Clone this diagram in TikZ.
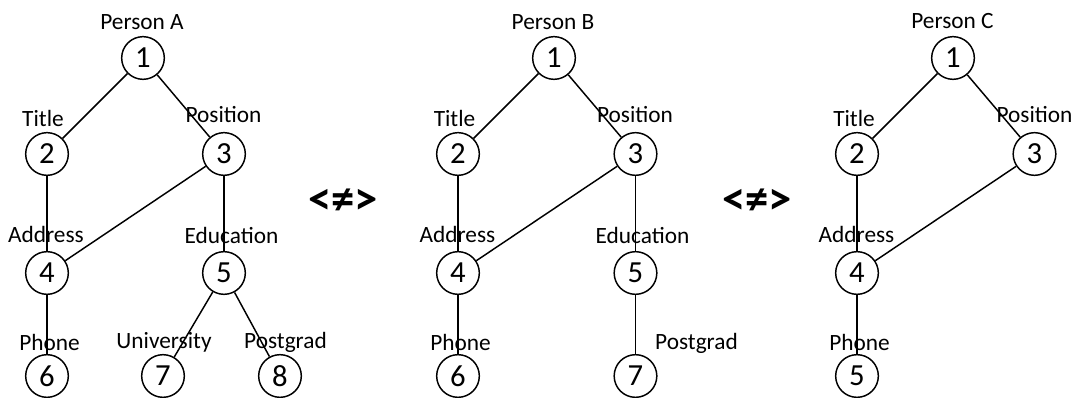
\documentclass[tikz,border=0pt]{standalone}
\usepackage{fontspec}
\setmainfont{Carlito}
\begin{document}
\begin{tikzpicture}[x=0.75pt,y=-0.75pt,
  nd/.style={circle,draw,line width=1.1pt,minimum size=32pt,inner sep=0pt,font=\fontsize{23}{26}\selectfont},
  lbl/.style={anchor=base,inner sep=0pt,font=\fontsize{17.5}{20}\selectfont},
  neq/.style={inner sep=0pt,font=\fontsize{35}{38}\selectfont\bfseries},
  edge/.style={line width=1.1pt}]
\useasboundingbox (0,0) rectangle (1079,398);

% ---------- Person A ----------
\node[nd] (a1) at (143,58) {1};
\node[nd] (a2) at (47,154) {2};
\node[nd] (a3) at (224,154) {3};
\node[nd] (a4) at (47,273) {4};
\node[nd] (a5) at (224,273) {5};
\node[nd] (a6) at (47,376) {6};
\node[nd] (a7) at (163,376) {7};
\node[nd] (a8) at (280,376) {8};
\draw[edge] (a1) -- (a2);
\draw[edge] (a1) -- (a3);
\draw[edge] (a2) -- (a4);
\draw[edge] (a3) -- (a4);
\draw[edge] (a3) -- (a5);
\draw[edge] (a4) -- (a6);
\draw[edge] (a5) -- (a7);
\draw[edge] (a5) -- (a8);
\node[lbl] (la1) at (142,30) {Person A};
\node[lbl] (la2) at (43,127) {Title};
\node[lbl] (la3) at (223.5,123) {Position};
\node[lbl] (la4) at (46,243) {Address};
\node[lbl] (la5) at (231.5,244) {Education};
\node[lbl] (la6) at (49.5,351) {Phone};
\node[lbl] (la7) at (164,349) {University};
\node[lbl] (la8) at (285.5,349) {Postgrad};

\node[neq] (ne1) at (343,202) {<≠>};

% ---------- Person B ----------
\node[nd] (b1) at (554,58) {1};
\node[nd] (b2) at (458,154) {2};
\node[nd] (b3) at (635.5,154) {3};
\node[nd] (b4) at (458,273) {4};
\node[nd] (b5) at (635.5,273) {5};
\node[nd] (b6) at (458,376) {6};
\node[nd] (b7) at (635.5,376) {7};
\draw[edge] (b1) -- (b2);
\draw[edge] (b1) -- (b3);
\draw[edge] (b2) -- (b4);
\draw[edge] (b3) -- (b4);
\draw[edge] (b3) -- (b5);
\draw[edge] (b4) -- (b6);
\draw[edge] (b5) -- (b7);
\node[lbl] (lb1) at (553,30) {Person B};
\node[lbl] (lb2) at (454.5,127) {Title};
\node[lbl] (lb3) at (635,123) {Position};
\node[lbl] (lb4) at (457.5,243) {Address};
\node[lbl] (lb5) at (642.5,244) {Education};
\node[lbl] (lb6) at (460.5,351) {Phone};
\node[lbl] (lb7) at (696.5,350) {Postgrad};

\node[neq] (ne2) at (757,202) {<≠>};

% ---------- Person C ----------
\node[nd] (c1) at (953,58) {1};
\node[nd] (c2) at (857,154) {2};
\node[nd] (c3) at (1034.5,154) {3};
\node[nd] (c4) at (857,273) {4};
\node[nd] (c5) at (857,376) {5};
\draw[edge] (c1) -- (c2);
\draw[edge] (c1) -- (c3);
\draw[edge] (c2) -- (c4);
\draw[edge] (c3) -- (c4);
\draw[edge] (c4) -- (c5);
\node[lbl] (lc1) at (952.5,29) {Person C};
\node[lbl] (lc2) at (854,127) {Title};
\node[lbl] (lc3) at (1034.5,123) {Position};
\node[lbl] (lc4) at (856.5,243) {Address};
\node[lbl] (lc5) at (859.5,351) {Phone};
\end{tikzpicture}
\end{document}
